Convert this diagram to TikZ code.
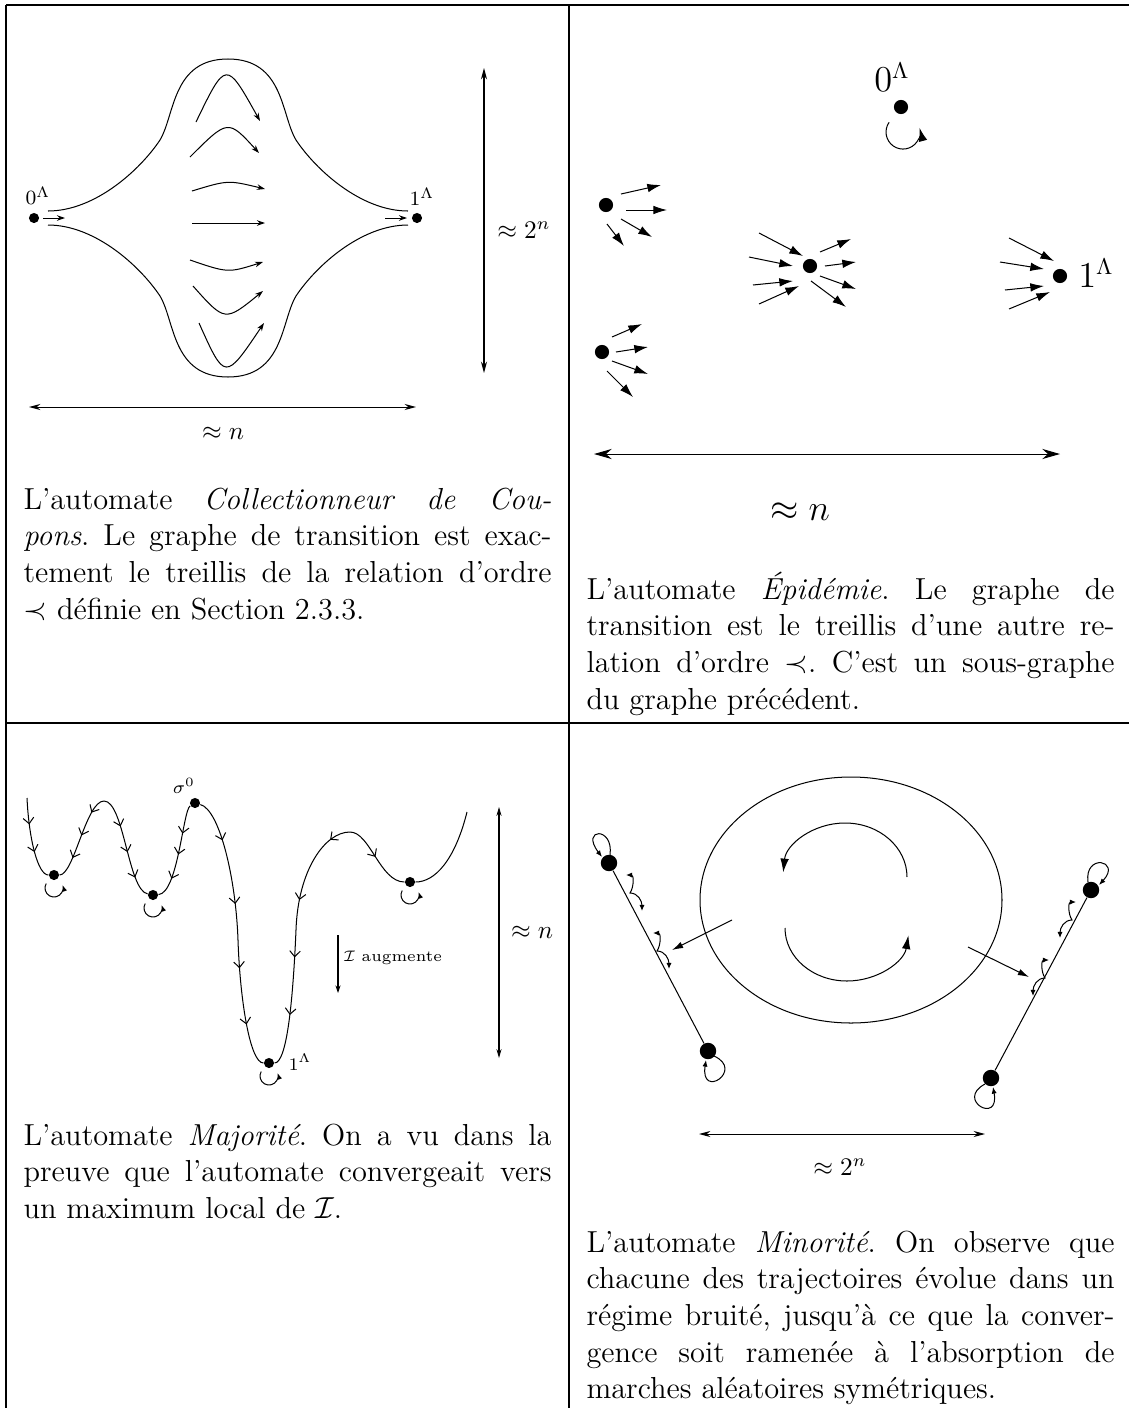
\documentclass[tikz,border=0pt]{standalone}
\usepackage{fontspec}
\usepackage{amsmath}
\usetikzlibrary{arrows.meta,decorations.markings,calc}
\newcommand\jline[1]{\makebox[\linewidth][s]{#1}\\}
\newcommand\chevtip{\arrow{Straight Barb[length=2.3pt,width=4.2pt]}}
\frenchspacing
\tikzset{
  dotA/.style={circle,fill,inner sep=0pt,minimum size=4pt},
  dotB/.style={circle,fill,inner sep=0pt,minimum size=5.6pt},
  dotC/.style={circle,fill,inner sep=0pt,minimum size=6.5pt},
  thinar/.style={-{Stealth[length=3.2pt,width=2.2pt]}},
  dimar/.style={{Stealth[length=4.5pt,width=2.4pt]}-{Stealth[length=4.5pt,width=2.4pt]}},
  dimbig/.style={{Stealth[length=7pt,width=4pt]}-{Stealth[length=7pt,width=4pt]}},
  bigar/.style={-{Latex[length=5.4pt,width=3.4pt]}},
  midar/.style={-{Latex[length=4.4pt,width=2.6pt]}},
  tinyar/.style={-{Latex[length=2.6pt,width=2pt]}},
  frame/.style={line width=0.5pt},
  txt/.style={anchor=base west,inner sep=0pt,font=\fontsize{12}{14.5}\selectfont\frenchspacing},
  lab/.style={inner sep=0pt},
  chev/.style={postaction={decorate,decoration={markings,#1}}},
  sloop/.pic={\draw[tinyar] (-7.8,-8.5) arc[start angle=150,end angle=380,radius=9];},
  wig/.pic={\draw[{Latex[length=2.4pt,width=2pt]}-{Latex[length=2.4pt,width=2pt]}] (0,0) .. controls (8,0) and (8,-12) .. (4,-18) .. controls (12,-18) and (16,-26) .. (16,-36);}
}
\begin{document}
\begin{tikzpicture}[x=0.395pt,y=0.395pt]
\useasboundingbox (0,0) rectangle (1129,-1408);
% frame
\draw[frame] (6,-5) -- (1129,-5);
\draw[frame] (6,-5) -- (6,-1408);
\draw[frame] (569,-5) -- (569,-1408);
\draw[frame] (6,-723) -- (1129,-723);

% ---------- cell 1 ----------
\node[dotA] (za) at (34,-218) {};
\node[dotA] (zb) at (417,-218) {};
\node[lab,font=\fontsize{8}{9}\selectfont] (zal) at (38,-196) {$0^\Lambda$};
\node[lab,font=\fontsize{8}{9}\selectfont] (zbl) at (422,-197) {$1^\Lambda$};
\draw[thinar] (43,-218) -- (65,-218);
\draw[thinar] (385,-218) -- (407,-218);
\draw (48,-211) .. controls (95,-211) and (140,-170) .. (160,-140)
  .. controls (175,-115) and (172,-59) .. (228,-59)
  .. controls (284,-59) and (281,-115) .. (296,-140)
  .. controls (316,-170) and (361,-211) .. (408,-211);
\draw (48,-225) .. controls (95,-225) and (140,-266) .. (160,-296)
  .. controls (175,-321) and (172,-377) .. (228,-377)
  .. controls (284,-377) and (281,-321) .. (296,-296)
  .. controls (316,-266) and (361,-225) .. (408,-225);
\draw[thinar] (196,-122) .. controls (226,-60) .. (260,-121);
\draw[thinar] (190,-157) .. controls (228,-119) .. (259,-153);
\draw[thinar] (192,-191) .. controls (228,-180) .. (265,-189);
\draw[thinar] (192,-223) -- (265,-223);
\draw[thinar] (190,-260) .. controls (228,-273) .. (263,-262);
\draw[thinar] (193,-286) .. controls (225,-322) .. (263,-291);
\draw[thinar] (199,-323) .. controls (225,-381) .. (264,-323);
\draw[dimar] (484,-68) -- (484,-373);
\node[lab,font=\fontsize{10}{12}\selectfont] (d1) at (524,-230) {$\approx 2^n$};
\draw[dimar] (29,-407) -- (416,-407);
\node[lab,font=\fontsize{10}{12}\selectfont] (d2) at (223,-433) {$\approx n$};
\node[txt] (t1) at (23,-509) {\parbox[t]{208.6pt}{\jline{L'automate \textit{Collectionneur de Cou-}}\jline{\textit{pons}. Le graphe de transition est exac-}\jline{tement le treillis de la relation d'ordre}$\prec$ définie en Section 2.3.3.}};

% ---------- cell 2 ----------
\node[dotB] (o) at (901,-107) {};
\node[lab,font=\fontsize{13.5}{16}\selectfont] (ol) at (892,-77) {$0^\Lambda$};
\draw[bigar] (889.1,-122.3) arc[start angle=145,end angle=375,radius=17];
\node[dotB] (na) at (606,-205) {};
\node[dotB] (nb) at (602,-352) {};
\node[dotB] (nc) at (810,-266) {};
\node[dotB] (nd) at (1060,-276) {};
\node[lab,font=\fontsize{13.5}{16}\selectfont] (ndl) at (1096,-273) {$1^\Lambda$};
\draw[bigar] (621,-194) -- (661,-185);
\draw[bigar] (626,-210) -- (667,-210);
\draw[bigar] (621,-219) -- (652,-237);
\draw[bigar] (607,-224) -- (624,-246);
\draw[bigar] (612,-337) -- (642,-324);
\draw[bigar] (616,-352) -- (648,-347);
\draw[bigar] (612,-361) -- (648,-374);
\draw[bigar] (607,-371) -- (633,-397);
\draw[bigar] (759,-233) -- (803,-256);
\draw[bigar] (749,-257) -- (793,-266);
\draw[bigar] (753,-285) -- (793,-281);
\draw[bigar] (759,-304) -- (799,-286);
\draw[bigar] (820,-252) -- (851,-239);
\draw[bigar] (825,-266) -- (856,-262);
\draw[bigar] (820,-276) -- (856,-289);
\draw[bigar] (811,-281) -- (846,-307);
\draw[bigar] (1009,-238) -- (1054,-261);
\draw[bigar] (1000,-262) -- (1044,-269);
\draw[bigar] (1005,-290) -- (1044,-286);
\draw[bigar] (1009,-309) -- (1050,-292);
\draw[dimbig] (594,-454) -- (1060,-454);
\node[lab,font=\fontsize{14.4}{17}\selectfont] (d3) at (800,-512) {$\approx n$};
\node[txt] (t2) at (586,-599) {\parbox[t]{208.6pt}{\jline{L'automate \textit{Épidémie}. Le graphe de}\jline{transition est le treillis d'une autre re-}\jline{lation d'ordre $\prec$. C'est un sous-graphe}du graphe précédent.}};

% ---------- cell 3 ----------
\node[dotA] (m1) at (54,-875) {};
\node[dotA] (m2) at (153,-895) {};
\node[dotA] (s0) at (195,-803) {};
\node[dotA] (lo) at (269,-1063) {};
\node[dotA] (m3) at (410,-882) {};
\coordinate (st) at (27,-798);
\coordinate (p1) at (104,-801);
\coordinate (p3) at (350,-832);
\coordinate (en) at (467,-812);
\coordinate (k5) at (238,-940);
\coordinate (k6) at (296,-930);
\node[lab,font=\fontsize{7.5}{9}\selectfont] (s0l) at (184,-786) {$\sigma^0$};
\node[lab,font=\fontsize{7.5}{9}\selectfont] (lol) at (300,-1062) {$1^\Lambda$};
\draw[chev={mark=at position 0.32 with {\chevtip},mark=at position 0.66 with {\chevtip}}]
  (st) .. controls (29,-840) and (38,-875) .. (m1);
\draw[chev={mark=at position 0.2 with {\chevtip},mark=at position 0.48 with {\chevtip},mark=at position 0.75 with {\chevtip}}]
  (p1) .. controls (86,-801) and (74,-875) .. (m1);
\draw[chev={mark=at position 0.3 with {\chevtip},mark=at position 0.55 with {\chevtip},mark=at position 0.8 with {\chevtip}}]
  (p1) .. controls (124,-801) and (128,-890) .. (m2);
\draw[chev={mark=at position 0.3 with {\chevtip},mark=at position 0.52 with {\chevtip},mark=at position 0.78 with {\chevtip}}]
  (s0) .. controls (183,-810) and (178,-893) .. (m2);
\draw[chev={mark=at position 0.3 with {\chevtip},mark=at position 0.75 with {\chevtip}}]
  (s0) .. controls (220,-810) and (236,-880) .. (k5);
\draw[chev={mark=at position 0.22 with {\chevtip},mark=at position 0.66 with {\chevtip}}]
  (k5) .. controls (240,-1000) and (250,-1063) .. (lo);
\draw[chev={mark=at position 0.18 with {\chevtip},mark=at position 0.75 with {\chevtip}}]
  (p3) .. controls (325,-832) and (298,-870) .. (k6);
\draw[chev={mark=at position 0.2 with {\chevtip},mark=at position 0.62 with {\chevtip}}]
  (k6) .. controls (293,-1000) and (287,-1063) .. (lo);
\draw[chev={mark=at position 0.48 with {\chevtip}}]
  (p3) .. controls (370,-832) and (380,-882) .. (m3);
\draw (en) .. controls (455,-860) and (435,-882) .. (m3);
\pic at (m1) {sloop};
\pic at (m2) {sloop};
\pic at (m3) {sloop};
\pic at (lo) {sloop};
\coordinate (ia) at (338,-935);
\coordinate (ib) at (338,-993);
\draw[-{Stealth[length=3pt,width=2pt]}] (ia) -- (ib);
\node[lab,anchor=west,font=\fontsize{6.2}{7.5}\selectfont] (il) at (343,-958) {$\mathcal{I}$ augmente};
\draw[{Stealth[length=3.5pt,width=2pt]}-{Stealth[length=3.5pt,width=2pt]}] (499,-807) -- (499,-1058);
\node[lab,font=\fontsize{10}{12}\selectfont] (d4) at (532,-932) {$\approx n$};
\node[txt] (t3) at (23,-1145) {\parbox[t]{208.6pt}{\jline{L'automate \textit{Majorité}. On a vu dans la}\jline{preuve que l'automate convergeait vers}un maximum local de $\mathcal{I}$.}};

% ---------- cell 4 ----------
\draw (851,-900) ellipse [x radius=151, y radius=123];
\draw[bigar] (907,-877) arc[start angle=0,end angle=175,x radius=62,y radius=54];
\draw[bigar] (785,-928) arc[start angle=180,end angle=352,x radius=62,y radius=53];
\node[dotC] (l1) at (609,-863) {};
\node[dotC] (l2) at (708,-1051) {};
\node[dotC] (r1) at (1091,-890) {};
\node[dotC] (r2) at (991,-1078) {};
\draw (l1) -- (l2);
\draw (r1) -- (r2);
\draw[tinyar] (610,-855) .. controls (614,-826) and (580,-828) .. (602,-857);
\draw[tinyar] (1088,-882) .. controls (1084,-853) and (1122,-860) .. (1099,-885);
\draw[tinyar] (714,-1056) .. controls (745,-1070) and (700,-1100) .. (706,-1060);
\draw[tinyar] (985,-1084) .. controls (955,-1100) and (1000,-1125) .. (993,-1087);
\pic at (626,-875) {wig};
\pic at (653,-933) {wig};
\pic[xscale=-1] at (1076,-902) {wig};
\pic[xscale=-1] at (1049,-960) {wig};
\draw[midar] (732,-920) -- (672,-950);
\draw[midar] (968,-947) -- (1029,-977);
\draw[dimar] (699,-1134) -- (985,-1134);
\node[lab,font=\fontsize{10}{12}\selectfont] (d5) at (840,-1167) {$\approx 2^n$};
\node[txt] (t4) at (586,-1252) {\parbox[t]{208.6pt}{\jline{L'automate \textit{Minorité}. On observe que}\jline{chacune des trajectoires évolue dans un}\jline{régime bruité, jusqu'à ce que la conver-}\jline{gence soit ramenée à l'absorption de}marches aléatoires symétriques.}};
\end{tikzpicture}
\end{document}
